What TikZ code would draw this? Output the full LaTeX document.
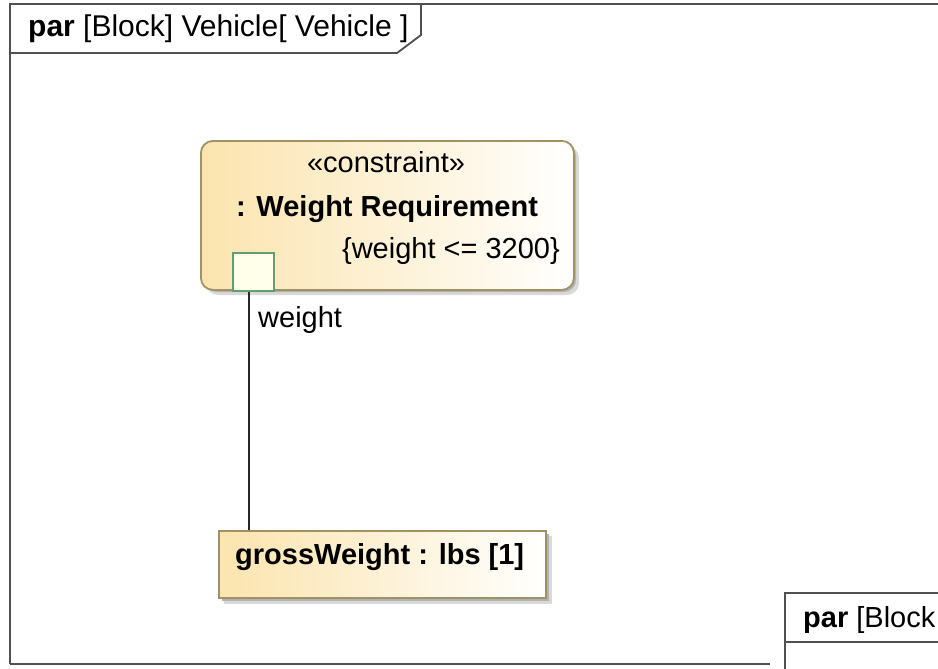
\documentclass[tikz,border=0pt]{standalone}
\usepackage{fontspec}
\setmainfont{Liberation Sans}
\definecolor{blockwarm}{RGB}{251,228,174}
\definecolor{blockedgecol}{RGB}{160,146,98}
\definecolor{portedge}{RGB}{96,160,112}
\definecolor{portfill}{RGB}{255,255,234}
\definecolor{framecol}{RGB}{80,80,80}
\begin{document}
\begin{tikzpicture}[x=1pt,y=-1pt,
  framepen/.style={draw=framecol,line width=1.8pt},
  blockfill/.style={left color=blockwarm,right color=white},
  blockedge/.style={draw=blockedgecol,line width=1.8pt},
  shadowA/.style={fill=black!15,draw=none},
  shadowB/.style={fill=black!30,draw=none},
  txt/.style={inner sep=0pt,anchor=base west,font=\fontsize{29}{34}\selectfont},
  portbox/.style={draw=portedge,line width=1.8pt,fill=portfill,inner sep=0pt,minimum width=41pt,minimum height=38pt}
]
\useasboundingbox (0,0) rectangle (938,669);
\fill[white] (0,0) rectangle (938,669);

% outer diagram frame with its name tab
\draw[framepen] (10,664) -- (10,4) -- (945,4);
\draw[framepen] (10,664) -- (770,664);
\draw[framepen] (10,53) -- (397,53) -- (421,35) -- (421,4);
\node[txt,font=\fontsize{30}{35}\selectfont] (title) at (28,37) {\textbf{par} [Block] Vehicle[ Vehicle ]};

% constraint property
\fill[shadowA,rounded corners=12pt] (206,146) rectangle (579,295);
\fill[shadowB,rounded corners=12pt] (204,144) rectangle (576,292);
\node[blockfill,blockedge,rounded corners=12pt,anchor=north west,
      minimum width=373pt,minimum height=149pt,inner sep=0pt] (req) at (200,140) {};
\node[txt,anchor=base] (stereo) at (386,172) {«constraint»};
\node[txt,anchor=base] (reqname) at (387,216) {\textbf{: Weight Requirement}};
\node[txt,anchor=base east] (expr) at (560,258) {\{weight <= 3200\}};

% constraint parameter port
\node[portbox,anchor=north west] (port) at (232,252) {};
\node[txt] (plabel) at (258,327) {weight};

% value property
\fill[shadowA] (224,536) rectangle (552,604);
\fill[shadowB] (222,534) rectangle (549,601);
\node[blockfill,blockedge,anchor=north west,
      minimum width=327pt,minimum height=67pt,inner sep=0pt] (gross) at (218,530) {};
\node[txt] (gname) at (235,564) {\textbf{grossWeight : lbs [1]}};

% binding connector
\draw[line width=2pt,black!85] ([xshift=-4.5pt]port.south) -- ([xshift=-4.5pt]port.south |- gross.north);

% second diagram frame in the lower right
\filldraw[framepen,fill=white] (785,700) -- (785,593) -- (960,593) -- (960,700);
\draw[framepen] (785,642) -- (960,642);
\node[txt] (title2) at (803,627) {\textbf{par} [Block};
\end{tikzpicture}
\end{document}
